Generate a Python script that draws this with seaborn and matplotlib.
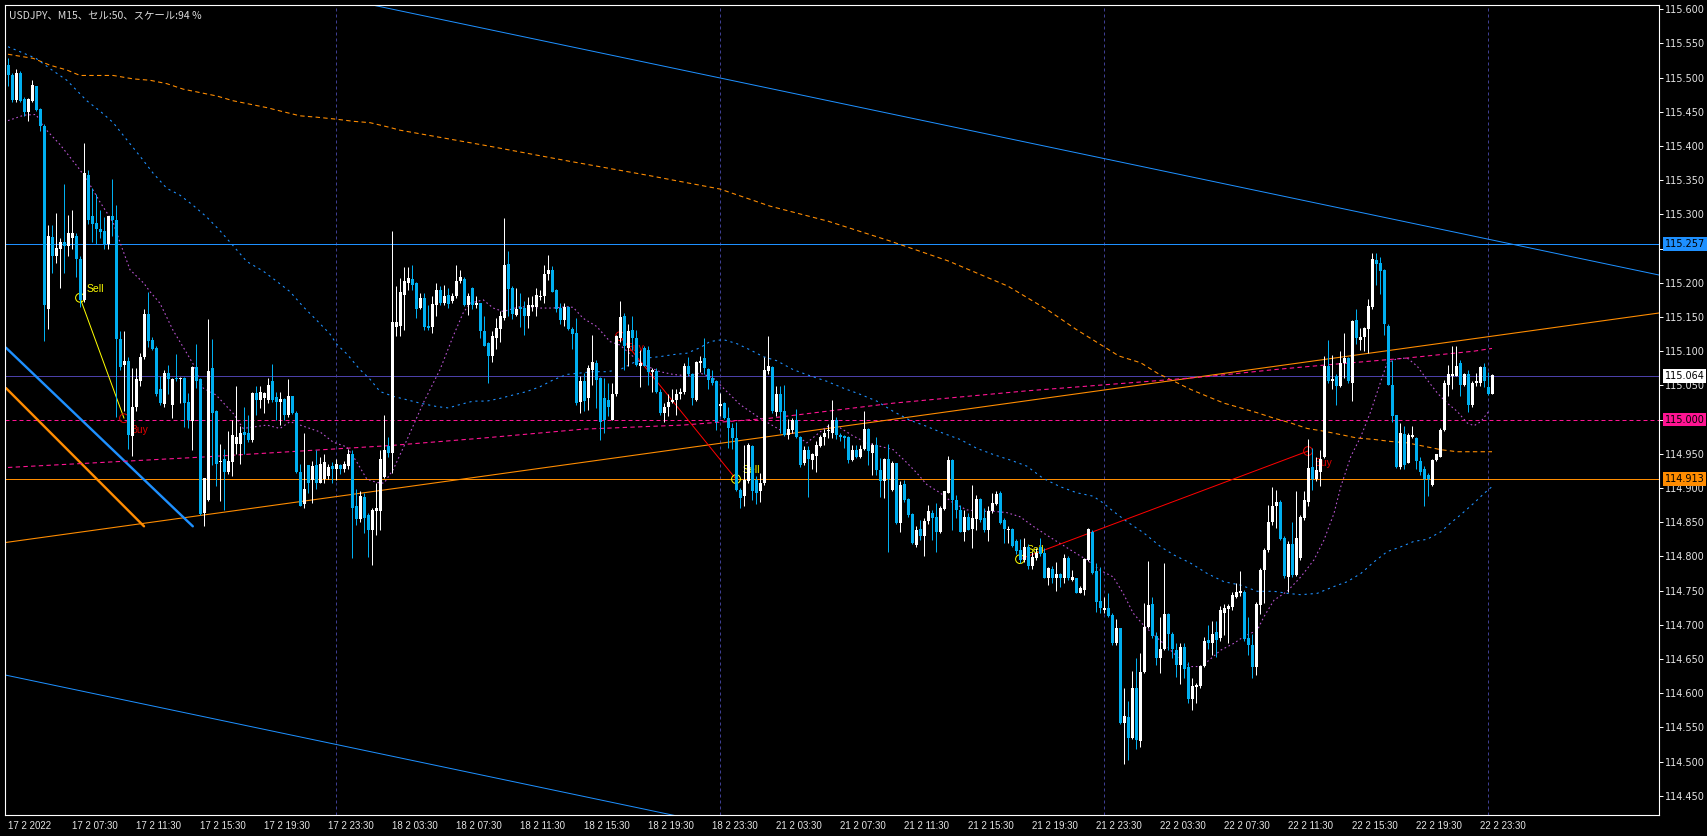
import matplotlib
matplotlib.use('Agg')
import matplotlib.pyplot as plt
import matplotlib.transforms as mtransforms
import seaborn as sns

# USDJPY M15 candles, bar 0 = 17 2 2022 03:30 (bars are consecutive, weekend skipped)
opens = [
    115.518, 115.504, 115.467, 115.507, 115.468, 115.450, 115.465, 115.487, 115.454, 115.429,
    115.162, 115.267, 115.239, 115.249, 115.260, 115.253, 115.266, 115.268, 115.234, 115.175,
    115.358, 115.297, 115.288, 115.279, 115.276, 115.256, 115.297, 115.292, 115.118, 115.080,
    115.085, 114.976, 115.018, 115.057, 115.091, 115.154, 115.116, 115.105, 115.044, 115.023,
    115.068, 115.022, 115.061, 115.060, 115.061, 115.026, 114.998, 115.077, 115.059, 114.863,
    114.883, 115.076, 115.013, 114.938, 114.942, 114.923, 114.938, 114.965, 114.965, 114.982,
    114.980, 114.970, 115.039, 115.029, 115.031, 115.029, 115.056, 115.033, 115.026, 115.030,
    115.007, 115.034, 115.009, 114.923, 114.876, 114.933, 114.911, 114.933, 114.908, 114.913,
    114.918, 114.932, 114.928, 114.934, 114.928, 114.932, 114.950, 114.873, 114.854, 114.887,
    114.861, 114.839, 114.866, 114.866, 114.916, 114.962, 114.951, 115.136, 115.137, 115.182,
    115.200, 115.205, 115.200, 115.163, 115.178, 115.137, 115.135, 115.168, 115.190, 115.170,
    115.182, 115.173, 115.180, 115.202, 115.206, 115.167, 115.192, 115.167, 115.170, 115.130,
    115.112, 115.093, 115.119, 115.132, 115.148, 115.228, 115.192, 115.153, 115.165, 115.163,
    115.151, 115.165, 115.165, 115.179, 115.181, 115.213, 115.219, 115.190, 115.163, 115.145,
    115.165, 115.132, 115.127, 115.025, 115.057, 115.031, 115.073, 115.082, 115.061, 115.031,
    115.029, 115.000, 115.038, 115.119, 115.152, 115.105, 115.131, 115.119, 115.079, 115.105,
    115.102, 115.070, 115.071, 115.041, 115.009, 115.018, 115.025, 115.028, 115.038, 115.040,
    115.079, 115.066, 115.029, 115.083, 115.090, 115.074, 115.061, 115.056, 115.020, 115.024,
    115.002, 114.988, 114.973, 114.897, 114.888, 114.910, 114.962, 114.911, 114.895, 114.907,
    115.071, 115.077, 115.011, 115.038, 115.012, 114.977, 114.985, 115.000, 114.975, 114.936,
    114.955, 114.941, 114.947, 114.961, 114.974, 114.983, 114.980, 115.000, 114.978, 114.976,
    114.974, 114.941, 114.955, 114.946, 114.957, 114.986, 114.951, 114.963, 114.927, 114.910,
    114.942, 114.897, 114.936, 114.849, 114.906, 114.884, 114.862, 114.817, 114.840, 114.830,
    114.852, 114.864, 114.857, 114.836, 114.869, 114.893, 114.941, 114.883, 114.868, 114.836,
    114.857, 114.840, 114.854, 114.884, 114.856, 114.838, 114.866, 114.877, 114.893, 114.853,
    114.839, 114.840, 114.822, 114.809, 114.795, 114.814, 114.786, 114.798, 114.814, 114.805,
    114.768, 114.781, 114.768, 114.775, 114.768, 114.797, 114.766, 114.768, 114.747, 114.751,
    114.795, 114.836, 114.778, 114.735, 114.721, 114.725, 114.714, 114.673, 114.695, 114.556,
    114.565, 114.535, 114.607, 114.530, 114.631, 114.697, 114.730, 114.684, 114.652, 114.664,
    114.716, 114.686, 114.663, 114.641, 114.668, 114.639, 114.592, 114.609, 114.610, 114.640,
    114.678, 114.673, 114.690, 114.680, 114.718, 114.723, 114.726, 114.741, 114.747, 114.748,
    114.680, 114.670, 114.639, 114.729, 114.780, 114.809, 114.851, 114.873, 114.879, 114.827,
    114.770, 114.818, 114.773, 114.797, 114.856, 114.880, 114.931, 114.913, 114.923, 114.946,
    115.079, 115.056, 115.063, 115.049, 115.083, 115.090, 115.054, 115.145, 115.117, 115.121,
    115.132, 115.165, 115.233, 115.229, 115.218, 115.137, 115.051, 115.006, 114.931, 114.979,
    114.937, 114.975, 114.973, 114.939, 114.928, 114.919, 114.905, 114.941, 114.946, 114.985,
    115.050, 115.064, 115.064, 115.082, 115.050, 115.066, 115.022, 115.054, 115.054, 115.077,
    115.047, 115.037,
]
highs = [
    115.528, 115.506, 115.513, 115.510, 115.471, 115.470, 115.497, 115.488, 115.456, 115.432,
    115.284, 115.284, 115.302, 115.266, 115.345, 115.299, 115.306, 115.272, 115.239, 115.404,
    115.365, 115.338, 115.330, 115.306, 115.296, 115.298, 115.352, 115.313, 115.130, 115.130,
    115.091, 115.076, 115.076, 115.098, 115.162, 115.187, 115.120, 115.108, 115.064, 115.073,
    115.080, 115.061, 115.096, 115.062, 115.062, 115.039, 115.078, 115.111, 115.061, 114.915,
    115.147, 115.118, 115.014, 114.965, 114.957, 114.984, 114.999, 115.049, 114.990, 115.019,
    115.007, 115.041, 115.049, 115.049, 115.041, 115.061, 115.081, 115.041, 115.041, 115.031,
    115.059, 115.034, 115.012, 114.935, 114.980, 114.933, 114.940, 114.955, 114.945, 114.950,
    114.935, 114.938, 114.943, 114.935, 114.940, 114.957, 114.955, 114.898, 114.896, 114.893,
    114.863, 114.871, 114.908, 114.955, 115.007, 114.975, 115.275, 115.195, 115.207, 115.223,
    115.223, 115.226, 115.201, 115.185, 115.185, 115.168, 115.180, 115.199, 115.195, 115.197,
    115.192, 115.185, 115.226, 115.219, 115.208, 115.185, 115.194, 115.180, 115.171, 115.151,
    115.114, 115.129, 115.148, 115.158, 115.295, 115.247, 115.195, 115.192, 115.185, 115.173,
    115.179, 115.180, 115.193, 115.190, 115.226, 115.240, 115.225, 115.191, 115.170, 115.170,
    115.166, 115.135, 115.148, 115.063, 115.068, 115.080, 115.124, 115.087, 115.062, 115.061,
    115.053, 115.053, 115.124, 115.173, 115.156, 115.139, 115.152, 115.131, 115.102, 115.107,
    115.107, 115.075, 115.075, 115.044, 115.024, 115.038, 115.044, 115.044, 115.046, 115.083,
    115.092, 115.068, 115.085, 115.093, 115.119, 115.075, 115.072, 115.058, 115.039, 115.025,
    115.019, 114.995, 114.997, 114.900, 114.963, 114.966, 114.963, 114.917, 114.922, 115.092,
    115.122, 115.078, 115.049, 115.049, 115.051, 115.001, 115.002, 115.015, 114.976, 114.962,
    114.961, 114.951, 114.968, 114.978, 114.986, 114.994, 115.028, 115.004, 114.980, 114.978,
    114.976, 114.963, 114.963, 114.963, 115.012, 114.988, 114.966, 114.975, 114.944, 114.944,
    114.965, 114.939, 114.937, 114.910, 114.912, 114.885, 114.863, 114.844, 114.853, 114.856,
    114.875, 114.868, 114.878, 114.873, 114.896, 114.947, 114.942, 114.890, 114.875, 114.868,
    114.864, 114.905, 114.890, 114.885, 114.871, 114.874, 114.892, 114.896, 114.895, 114.856,
    114.844, 114.841, 114.825, 114.825, 114.827, 114.818, 114.807, 114.812, 114.827, 114.812,
    114.785, 114.786, 114.792, 114.776, 114.804, 114.800, 114.780, 114.769, 114.757, 114.797,
    114.841, 114.839, 114.790, 114.785, 114.741, 114.746, 114.717, 114.709, 114.696, 114.607,
    114.589, 114.633, 114.651, 114.659, 114.732, 114.793, 114.741, 114.690, 114.712, 114.790,
    114.717, 114.690, 114.673, 114.673, 114.673, 114.646, 114.622, 114.615, 114.641, 114.682,
    114.700, 114.706, 114.705, 114.727, 114.730, 114.731, 114.748, 114.761, 114.779, 114.751,
    114.711, 114.687, 114.734, 114.783, 114.812, 114.875, 114.902, 114.897, 114.883, 114.830,
    114.822, 114.851, 114.895, 114.861, 114.895, 114.971, 114.958, 114.946, 114.956, 115.093,
    115.117, 115.094, 115.066, 115.100, 115.126, 115.092, 115.145, 115.161, 115.134, 115.136,
    115.176, 115.243, 115.243, 115.237, 115.220, 115.139, 115.087, 115.007, 114.995, 114.990,
    114.980, 114.990, 114.974, 114.945, 114.932, 114.922, 114.942, 114.950, 114.988, 115.058,
    115.080, 115.107, 115.107, 115.087, 115.068, 115.072, 115.056, 115.068, 115.078, 115.082,
    115.070, 115.066,
]
lows = [
    115.488, 115.464, 115.464, 115.464, 115.444, 115.436, 115.464, 115.451, 115.422, 115.115,
    115.133, 115.214, 115.229, 115.192, 115.214, 115.239, 115.249, 115.209, 115.165, 115.172,
    115.286, 115.259, 115.256, 115.266, 115.249, 115.249, 115.268, 115.004, 115.073, 115.012,
    114.957, 114.947, 115.012, 115.049, 115.088, 115.106, 115.102, 115.034, 115.022, 115.019,
    115.037, 115.002, 115.057, 115.024, 114.989, 114.987, 114.955, 115.046, 114.861, 114.844,
    114.881, 114.933, 114.903, 114.881, 114.868, 114.920, 114.918, 114.950, 114.935, 114.950,
    114.967, 114.967, 115.007, 115.017, 115.009, 115.024, 115.026, 114.999, 114.992, 114.999,
    115.004, 115.008, 114.922, 114.873, 114.871, 114.893, 114.878, 114.898, 114.907, 114.908,
    114.913, 114.908, 114.911, 114.920, 114.923, 114.928, 114.797, 114.846, 114.851, 114.834,
    114.799, 114.787, 114.831, 114.839, 114.914, 114.946, 114.922, 115.122, 115.122, 115.131,
    115.190, 115.190, 115.148, 115.161, 115.131, 115.131, 115.126, 115.152, 115.168, 115.168,
    115.163, 115.170, 115.178, 115.200, 115.166, 115.153, 115.161, 115.163, 115.119, 115.107,
    115.054, 115.084, 115.103, 115.114, 115.146, 115.151, 115.147, 115.151, 115.136, 115.123,
    115.134, 115.158, 115.152, 115.175, 115.171, 115.204, 115.186, 115.157, 115.139, 115.137,
    115.131, 115.103, 115.022, 115.010, 115.012, 115.014, 115.051, 115.017, 114.970, 114.980,
    115.005, 114.999, 115.034, 115.114, 115.073, 115.078, 115.102, 115.078, 115.048, 115.078,
    115.051, 115.041, 115.039, 115.007, 114.997, 115.005, 115.024, 115.007, 115.030, 115.038,
    115.064, 115.022, 115.027, 115.070, 115.066, 115.044, 115.051, 114.985, 115.005, 115.001,
    114.958, 114.957, 114.895, 114.871, 114.873, 114.907, 114.883, 114.876, 114.880, 114.905,
    115.066, 115.010, 115.005, 114.980, 114.976, 114.971, 114.980, 114.973, 114.931, 114.934,
    114.887, 114.928, 114.923, 114.960, 114.963, 114.973, 114.973, 114.971, 114.968, 114.958,
    114.937, 114.940, 114.944, 114.944, 114.956, 114.933, 114.919, 114.919, 114.887, 114.885,
    114.806, 114.896, 114.848, 114.836, 114.880, 114.858, 114.818, 114.814, 114.824, 114.800,
    114.848, 114.824, 114.806, 114.834, 114.868, 114.893, 114.838, 114.856, 114.835, 114.823,
    114.838, 114.813, 114.839, 114.851, 114.836, 114.823, 114.863, 114.875, 114.848, 114.819,
    114.819, 114.814, 114.804, 114.790, 114.792, 114.781, 114.781, 114.795, 114.800, 114.768,
    114.758, 114.761, 114.750, 114.755, 114.761, 114.766, 114.764, 114.746, 114.746, 114.743,
    114.794, 114.775, 114.719, 114.718, 114.718, 114.712, 114.670, 114.670, 114.555, 114.497,
    114.502, 114.533, 114.519, 114.522, 114.630, 114.695, 114.680, 114.641, 114.629, 114.663,
    114.663, 114.651, 114.624, 114.614, 114.622, 114.586, 114.575, 114.585, 114.608, 114.639,
    114.664, 114.656, 114.653, 114.677, 114.685, 114.673, 114.722, 114.739, 114.742, 114.677,
    114.656, 114.622, 114.627, 114.716, 114.732, 114.807, 114.846, 114.841, 114.824, 114.768,
    114.748, 114.770, 114.771, 114.795, 114.853, 114.874, 114.897, 114.910, 114.903, 114.944,
    115.054, 115.045, 115.022, 115.048, 115.061, 115.053, 115.027, 115.110, 115.101, 115.100,
    115.097, 115.162, 115.197, 115.183, 115.124, 115.050, 114.997, 114.929, 114.928, 114.928,
    114.936, 114.973, 114.928, 114.919, 114.874, 114.889, 114.903, 114.939, 114.945, 114.984,
    115.035, 115.044, 115.063, 115.035, 115.049, 115.011, 115.019, 115.049, 115.049, 115.048,
    115.036, 115.037,
]
closes = [
    115.503, 115.467, 115.506, 115.466, 115.449, 115.468, 115.489, 115.452, 115.429, 115.167,
    115.269, 115.239, 115.251, 115.259, 115.253, 115.272, 115.272, 115.235, 115.175, 115.360,
    115.291, 115.286, 115.278, 115.274, 115.256, 115.297, 115.292, 115.118, 115.077, 115.085,
    114.978, 115.019, 115.059, 115.092, 115.154, 115.115, 115.103, 115.037, 115.024, 115.068,
    115.060, 115.060, 115.059, 115.061, 115.024, 114.999, 115.077, 115.056, 114.862, 114.914,
    115.071, 115.009, 114.935, 114.940, 114.923, 114.940, 114.977, 114.975, 114.980, 114.978,
    114.970, 115.039, 115.029, 115.041, 115.039, 115.051, 115.029, 115.026, 115.030, 115.007,
    115.034, 115.009, 114.923, 114.873, 114.898, 114.908, 114.932, 114.908, 114.935, 114.938,
    114.930, 114.928, 114.935, 114.928, 114.935, 114.950, 114.871, 114.854, 114.888, 114.856,
    114.839, 114.868, 114.871, 114.943, 114.956, 114.951, 115.143, 115.143, 115.187, 115.203,
    115.207, 115.197, 115.161, 115.178, 115.135, 115.134, 115.169, 115.190, 115.170, 115.181,
    115.169, 115.181, 115.202, 115.208, 115.167, 115.181, 115.168, 115.171, 115.129, 115.108,
    115.093, 115.122, 115.134, 115.151, 115.226, 115.191, 115.155, 115.161, 115.162, 115.151,
    115.168, 115.168, 115.182, 115.181, 115.213, 115.219, 115.187, 115.161, 115.145, 115.164,
    115.132, 115.125, 115.024, 115.057, 115.027, 115.075, 115.084, 115.058, 114.996, 115.000,
    115.019, 115.038, 115.122, 115.150, 115.107, 115.130, 115.119, 115.080, 115.083, 115.079,
    115.070, 115.073, 115.041, 115.010, 115.019, 115.025, 115.029, 115.038, 115.041, 115.079,
    115.066, 115.031, 115.084, 115.085, 115.075, 115.058, 115.053, 114.997, 115.023, 115.002,
    114.988, 114.973, 114.897, 114.885, 114.912, 114.963, 114.895, 114.893, 114.907, 115.073,
    115.078, 115.012, 115.038, 115.011, 114.977, 114.986, 114.999, 114.975, 114.934, 114.956,
    114.942, 114.950, 114.963, 114.974, 114.981, 114.985, 115.000, 114.977, 114.975, 114.973,
    114.941, 114.955, 114.945, 114.957, 114.986, 114.954, 114.963, 114.927, 114.910, 114.942,
    114.913, 114.936, 114.849, 114.905, 114.883, 114.861, 114.820, 114.838, 114.830, 114.852,
    114.866, 114.856, 114.836, 114.871, 114.895, 114.941, 114.882, 114.868, 114.836, 114.858,
    114.839, 114.856, 114.884, 114.853, 114.838, 114.866, 114.878, 114.891, 114.849, 114.840,
    114.840, 114.815, 114.808, 114.795, 114.814, 114.786, 114.799, 114.805, 114.804, 114.769,
    114.783, 114.768, 114.775, 114.768, 114.797, 114.768, 114.770, 114.747, 114.754, 114.796,
    114.840, 114.776, 114.734, 114.724, 114.725, 114.713, 114.673, 114.695, 114.556, 114.566,
    114.535, 114.607, 114.531, 114.631, 114.697, 114.729, 114.684, 114.652, 114.664, 114.716,
    114.686, 114.664, 114.641, 114.668, 114.635, 114.592, 114.610, 114.612, 114.640, 114.677,
    114.673, 114.687, 114.678, 114.721, 114.724, 114.727, 114.744, 114.748, 114.749, 114.679,
    114.670, 114.639, 114.730, 114.780, 114.809, 114.851, 114.873, 114.880, 114.825, 114.771,
    114.818, 114.773, 114.827, 114.857, 114.882, 114.929, 114.913, 114.926, 114.942, 115.079,
    115.056, 115.060, 115.049, 115.083, 115.090, 115.056, 115.144, 115.119, 115.121, 115.134,
    115.166, 115.235, 115.227, 115.217, 115.139, 115.051, 115.005, 114.931, 114.980, 114.934,
    114.978, 114.978, 114.939, 114.924, 114.913, 114.913, 114.941, 114.949, 114.985, 115.053,
    115.067, 115.067, 115.079, 115.050, 115.066, 115.022, 115.054, 115.057, 115.077, 115.057,
    115.037, 115.065,
]

# time axis
tick_bars = [0, 16, 32, 48, 64, 80, 96, 112, 128, 144, 160, 176,
             192, 208, 224, 240, 256, 272, 288, 304, 320, 336, 352, 368]
tick_labels = ['17 2 2022', '17 2 07:30', '17 2 11:30', '17 2 15:30', '17 2 19:30', '17 2 23:30',
               '18 2 03:30', '18 2 07:30', '18 2 11:30', '18 2 15:30', '18 2 19:30', '18 2 23:30',
               '21 2 03:30', '21 2 07:30', '21 2 11:30', '21 2 15:30', '21 2 19:30', '21 2 23:30',
               '22 2 03:30', '22 2 07:30', '22 2 11:30', '22 2 15:30', '22 2 19:30', '22 2 23:30']
day_breaks = [82, 178, 274, 370]
price_ticks = [114.45, 114.50, 114.55, 114.60, 114.65, 114.70, 114.75, 114.80, 114.85, 114.90,
               114.95, 115.00, 115.05, 115.10, 115.15, 115.20, 115.25, 115.30, 115.35, 115.40,
               115.45, 115.50, 115.55, 115.60]
# scale labels that sit under a price tag in the screenshot
hidden_price_ticks = [115.25]

# moving averages (bar, price)
ma_fast_bars = [0, 4, 7, 9, 13, 18, 20.5, 23, 26.3, 28, 30.5, 34, 35.5, 38, 41.3, 44.3, 46.3, 48.8,
                52, 56.3, 58.8, 64.7, 68, 70.5, 73, 78, 81.3, 84.7, 87.2, 89.7, 92.2, 94, 96.3, 99.7,
                103.8, 108, 111.3, 113.8, 115.5, 118.8, 121.3, 123.8, 128, 133, 136.3, 139.7, 141.3,
                143.8, 147.2, 150.5, 153, 156.3, 159.7, 163, 166.3, 169.7, 173, 176.3, 179.7, 183,
                185.5, 188, 193, 196.3, 199.7, 204.7, 208, 211.3, 214.7, 218, 221.3, 224.7, 227.2,
                229.7, 233, 236.3, 239.7, 243, 246.3, 249.7, 253, 256.3, 259.7, 263, 266.3, 269.7,
                273, 276.3, 278.8, 281.3, 283.8, 286.5, 289.8, 293.2, 295.7, 298.2, 299.8, 303.2,
                306.5, 309, 312.3, 314, 316.5, 319.8, 323.2, 326.5, 329, 331.5, 333.2, 335.7, 338.2,
                340.7, 343.2, 344.8, 347.3, 349.8, 352.3, 354.8, 357.3, 359.8, 362.3, 364.8, 366.5,
                368.2, 370.2]
ma_fast_vals = [115.437, 115.445, 115.446, 115.427, 115.402, 115.365, 115.343, 115.318, 115.288,
                115.259, 115.219, 115.199, 115.187, 115.170, 115.130, 115.101, 115.081, 115.046,
                115.036, 115.009, 114.987, 114.992, 114.987, 114.997, 114.992, 114.982, 114.967,
                114.960, 114.938, 114.913, 114.908, 114.907, 114.927, 114.970, 115.024, 115.073,
                115.122, 115.156, 115.170, 115.175, 115.163, 115.158, 115.165, 115.163, 115.163,
                115.165, 115.164, 115.148, 115.136, 115.114, 115.109, 115.092, 115.078, 115.070,
                115.066, 115.064, 115.068, 115.061, 115.041, 115.022, 115.012, 115.002, 114.985,
                114.980, 114.966, 114.990, 114.988, 114.976, 114.966, 114.961, 114.956, 114.937,
                114.922, 114.905, 114.893, 114.878, 114.868, 114.866, 114.866, 114.864, 114.858,
                114.844, 114.831, 114.819, 114.807, 114.795, 114.780, 114.770, 114.746, 114.717,
                114.700, 114.685, 114.668, 114.648, 114.639, 114.639, 114.646, 114.663, 114.673,
                114.683, 114.692, 114.712, 114.736, 114.749, 114.770, 114.795, 114.824, 114.863,
                114.902, 114.946, 114.975, 115.012, 115.056, 115.083, 115.089, 115.090, 115.078,
                115.058, 115.039, 115.024, 115.012, 114.995, 114.991, 114.997, 115.012]

ma_mid_bars = [0, 7, 10.5, 14.7, 19.7, 23, 26.3, 29.7, 33, 36.3, 39.7, 43, 46.3, 49.7, 53, 56.3,
               59.7, 63.8, 67.2, 70.5, 73.8, 77.2, 80.5, 82.2, 84.7, 88, 90.5, 93, 96.3, 99.7, 103,
               107.2, 110.1, 113, 116.3, 119.7, 123, 126.3, 129.7, 133, 136.3, 139.7, 143, 146.3,
               149.7, 153, 156.3, 159.7, 163, 166.3, 169.7, 173, 175.5, 178.8, 182.2, 185.5, 188.8,
               192.2, 196.3, 200.5, 204.7, 208.8, 213, 217.2, 221.3, 225.5, 229.7, 233.8, 238,
               242.2, 246.3, 250.5, 254.7, 258.8, 263, 267.2, 271.3, 273.8, 276.3, 279.7, 284,
               288.2, 291.5, 295.7, 299.8, 304, 308.2, 312.3, 316.5, 319.8, 323.2, 327.3, 331.5,
               334.8, 338.2, 341.5, 344.8, 348.2, 351.5, 354.8, 358.2, 360.7, 363.2, 366.5, 369, 371]
ma_mid_vals = [115.545, 115.528, 115.513, 115.496, 115.466, 115.451, 115.434, 115.409, 115.385,
               115.360, 115.338, 115.328, 115.313, 115.296, 115.276, 115.254, 115.231, 115.217,
               115.202, 115.187, 115.165, 115.145, 115.125, 115.110, 115.096, 115.073, 115.059,
               115.041, 115.034, 115.029, 115.024, 115.019, 115.017, 115.022, 115.027, 115.027,
               115.031, 115.036, 115.041, 115.048, 115.058, 115.066, 115.068, 115.070, 115.070,
               115.073, 115.083, 115.090, 115.092, 115.095, 115.097, 115.105, 115.114, 115.117,
               115.111, 115.102, 115.092, 115.086, 115.073, 115.064, 115.056, 115.046, 115.037,
               115.027, 115.012, 114.999, 114.990, 114.980, 114.971, 114.958, 114.949, 114.941,
               114.932, 114.914, 114.902, 114.893, 114.888, 114.878, 114.866, 114.851, 114.834,
               114.814, 114.802, 114.790, 114.775, 114.763, 114.758, 114.749, 114.749, 114.746,
               114.744, 114.746, 114.756, 114.763, 114.775, 114.792, 114.807, 114.814, 114.822,
               114.825, 114.836, 114.849, 114.861, 114.878, 114.892, 114.902]

ma_slow_bars = [0, 6.3, 10.5, 14.7, 18, 26.3, 31.3, 35.5, 39.7, 43.8, 48, 52.2, 56.3, 60.5, 64.7,
                68.8, 73, 77.2, 82.2, 86.3, 90.5, 95.5, 98, 120, 140, 160, 178, 190.5, 205, 220,
                235, 250, 260, 267, 277.7, 283.2, 287.3, 291.5, 295.7, 299.8, 304, 308.2, 312.3,
                316.5, 320.7, 324.8, 329, 333.2, 337.3, 341.5, 345.7, 349.8, 354, 358.2, 362.3,
                366.5, 371]
ma_slow_vals = [115.534, 115.528, 115.518, 115.511, 115.503, 115.503, 115.498, 115.496, 115.491,
                115.483, 115.478, 115.473, 115.466, 115.461, 115.456, 115.450, 115.444, 115.442,
                115.439, 115.436, 115.434, 115.427, 115.423, 115.400, 115.378, 115.357, 115.337,
                115.312, 115.290, 115.262, 115.232, 115.195, 115.160, 115.132, 115.093, 115.083,
                115.068, 115.056, 115.044, 115.034, 115.024, 115.017, 115.010, 115.002, 114.995,
                114.987, 114.983, 114.978, 114.973, 114.971, 114.968, 114.966, 114.961, 114.956,
                114.953, 114.953, 114.953]

ma_long_bars = [0, 48, 95.5, 118.8, 143.8, 168.8, 190.5, 221.3, 254.7, 285.5, 300, 316.5, 329.8,
                349.8, 366.5, 371]
ma_long_vals = [114.930, 114.945, 114.962, 114.973, 114.986, 114.992, 115.002, 115.024, 115.042,
                115.056, 115.063, 115.073, 115.080, 115.090, 115.100, 115.104]

# drawn objects (bar, price end points)
channel_top_bars, channel_top_vals = [-1, 413], [115.719, 115.211]
channel_low_bars, channel_low_vals = [-1, 413], [114.627, 114.119]
orange_trend_bars, orange_trend_vals = [-1, 413], [114.820, 115.156]
short_blue_bars, short_blue_vals = [-0.5, 46.2], [115.105, 114.844]
short_orange_bars, short_orange_vals = [-0.5, 34], [115.046, 114.844]

level_resist = 115.257
level_bid = 115.064
level_round = 115.000
level_support = 114.913

# trade history: entry -> exit
trade_in_bars = [18, 153, 253]
trade_in_prices = [115.178, 115.122, 114.796]
trade_in_sides = ['Sell', 'Buy', 'Sell']
trade_out_bars = [29, 182, 325]
trade_out_prices = [115.002, 114.913, 114.954]
trade_out_sides = ['Buy', 'Sell', 'Buy']
trade_wins = [True, False, False]

# ---------------------------------------------------------------
sns.set_style('dark', {'axes.facecolor': 'black', 'figure.facecolor': 'black',
                       'axes.edgecolor': 'white', 'axes.grid': False})
plt.rcParams['font.family'] = ['DejaVu Sans', 'Noto Sans CJK JP']

PX = 0.72  # one screen pixel in points at dpi 100
BEAR = '#00AFF0'
BULL = '#FFFFFF'
DODGER = '#1E90FF'
ORANGE = '#FF8C00'
PINK = '#FF1493'
ORCHID = '#BA55D3'
SLATE = '#4B40A8'
LABEL = '#E4E4E4'

fig = plt.figure(figsize=(17.07, 8.36), dpi=100)
ax = fig.add_axes([5 / 1707, 21 / 836, 1654 / 1707, 810 / 836])
ax.set_facecolor('black')

# day separators
for b in day_breaks:
    ax.axvline(b, color='#3E3E92', lw=PX, linestyle=(0, (3, 3)), zorder=1)

# horizontal levels
ax.axhline(level_resist, color=DODGER, lw=PX, zorder=1.2)
ax.axhline(level_bid, color=SLATE, lw=PX, zorder=1.2)
ax.axhline(level_round, color=PINK, lw=PX, linestyle=(0, (4, 3)), zorder=1.2)
ax.axhline(level_support, color=ORANGE, lw=PX, zorder=1.2)

# trend lines
ax.plot(channel_top_bars, channel_top_vals, color=DODGER, lw=PX, zorder=1.3)
ax.plot(channel_low_bars, channel_low_vals, color=DODGER, lw=PX, zorder=1.3)
ax.plot(orange_trend_bars, orange_trend_vals, color=ORANGE, lw=PX * 1.1, zorder=1.3)
ax.plot(short_blue_bars, short_blue_vals, color=DODGER, lw=PX * 2.4, zorder=1.3)
ax.plot(short_orange_bars, short_orange_vals, color=ORANGE, lw=PX * 2.4, zorder=1.3)

# moving averages
sns.lineplot(x=ma_slow_bars, y=ma_slow_vals, ax=ax, color=ORANGE, lw=PX * 1.1,
             linestyle=(0, (4, 3)), sort=False, estimator=None, zorder=1.5)
sns.lineplot(x=ma_mid_bars, y=ma_mid_vals, ax=ax, color=DODGER, lw=PX * 1.1,
             linestyle=(0, (2, 3.5)), sort=False, estimator=None, zorder=1.5)
sns.lineplot(x=ma_long_bars, y=ma_long_vals, ax=ax, color=PINK, lw=PX * 1.1,
             linestyle=(0, (4, 3)), sort=False, estimator=None, zorder=1.5)
sns.lineplot(x=ma_fast_bars, y=ma_fast_vals, ax=ax, color=ORCHID, lw=PX * 1.1,
             linestyle=(0, (1.5, 2.5)), sort=False, estimator=None, zorder=1.5)

# trades
for k in range(len(trade_in_bars)):
    line_col = '#FFFF00' if trade_wins[k] else '#FF0000'
    ax.plot([trade_in_bars[k], trade_out_bars[k]], [trade_in_prices[k], trade_out_prices[k]],
            color=line_col, lw=PX, zorder=2)
    for b, p, side in ((trade_in_bars[k], trade_in_prices[k], trade_in_sides[k]),
                       (trade_out_bars[k], trade_out_prices[k], trade_out_sides[k])):
        col = '#FFFF00' if side == 'Sell' else '#E00000'
        ax.scatter([b], [p], s=40, facecolors='none', edgecolors=col, linewidths=PX, zorder=2)
        dy = 6.5 if side == 'Sell' else -8.5
        ax.annotate(side, (b, p), xytext=(4.5, dy), textcoords='offset points',
                    ha='left', va='center', color=col, fontsize=7.5,
                    family='Liberation Sans', zorder=2)

# candles
bars = list(range(len(closes)))
cols = [BULL if c >= o else BEAR for o, c in zip(opens, closes)]
ax.vlines(bars, lows, highs, colors=cols, lw=PX, zorder=3)
bottoms = [min(o, c) for o, c in zip(opens, closes)]
heights = [max(abs(c - o), 0.0013) for o, c in zip(opens, closes)]
ax.bar(bars, heights, bottom=bottoms, width=0.75, color=cols, linewidth=0, zorder=3.1)

ax.set_xlim(-0.75, 412.75)
ax.set_ylim(114.422, 115.606)

# axes styling
for s in ax.spines.values():
    s.set_visible(True)
    s.set_color('white')
    s.set_linewidth(PX * 1.1)
ax.yaxis.tick_right()
ax.set_yticks(price_ticks)
ax.set_yticklabels(['' if v in hidden_price_ticks else f'{v:.3f}' for v in price_ticks])
ax.set_xticks(tick_bars)
ax.set_xticklabels(tick_labels)
ax.tick_params(axis='y', which='both', direction='out', length=3, width=PX, color='white',
               pad=1.6, labelsize=7, labelcolor=LABEL, left=False, right=True)
ax.tick_params(axis='x', direction='out', length=3, width=PX, color='white',
               pad=1.5, labelsize=7, labelcolor=LABEL)
for t in ax.get_xticklabels():
    t.set_horizontalalignment('left')
    t.set_family('Liberation Sans')
ax.set_xlabel('')
ax.set_ylabel('')

# price tags on the right scale
blend = mtransforms.blended_transform_factory(ax.transAxes, ax.transData)
for lvl, bg in ((level_resist, DODGER), (level_bid, '#FFFFFF'),
                (level_round, PINK), (level_support, ORANGE)):
    ax.text(1.0035, lvl, f'{lvl:.3f}', transform=blend, ha='left', va='center',
            fontsize=7, color='black', zorder=10, clip_on=False,
            bbox=dict(boxstyle='square,pad=0.18', fc=bg, ec='none'))

fig.text(9 / 1707, 1 - 15 / 836, 'USDJPY、M15、セル:50、スケール:94 %', ha='left', va='center',
         color='#DADADA', fontsize=7.5, family=['Noto Sans CJK JP', 'DejaVu Sans'])

fig.savefig('out.png', dpi=100, facecolor='black')
